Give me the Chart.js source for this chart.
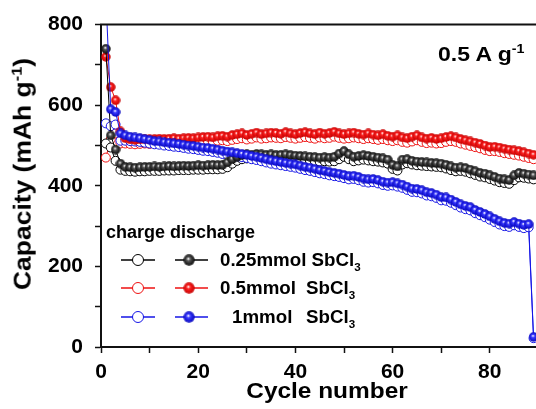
<!DOCTYPE html>
<html>
<head>
<meta charset="utf-8">
<script src="https://cdn.jsdelivr.net/npm/chart.js@4.4.0/dist/chart.umd.min.js"></script>
<style>
  html, body { margin: 0; padding: 0; background: #fff; overflow: hidden; width: 536px; height: 409px; }
  #wrap { position: relative; width: 536px; height: 409px; overflow: hidden; }
  #chart { position: absolute; left: 0; top: 0; }
  .t { position: absolute; font-family: "Liberation Sans", Arial, sans-serif; font-weight: bold; color: #000; white-space: nowrap; line-height: 1; transform-origin: left center; }
  .t sup, .t sub { font-size: 62%; }
</style>
</head>
<body>
<div id="wrap">
  <canvas id="chart" width="620" height="409"></canvas>
  <div class="t" id="ytitle" style="left:22px;top:174px;font-size:23px;transform-origin:center;transform:translate(-50%,-50%) rotate(-90deg) scaleX(1.15);">Capacity (mAh g<sup>-1</sup>)</div>
  <div class="t" style="left:327px;top:391px;font-size:22px;transform-origin:center;transform:translate(-50%,-50%) scaleX(1.11);">Cycle number</div>
  <div class="t" style="left:438px;top:43px;font-size:20px;transform:scaleX(1.15);">0.5 A g<sup>-1</sup></div>
  <div class="t" style="left:106px;top:223px;font-size:18px;">charge discharge</div>
  <div class="t" style="left:220px;top:251px;font-size:18px;transform:scaleX(1.04);">0.25mmol SbCl<sub>3</sub></div>
  <div class="t" style="left:220px;top:279px;font-size:18px;transform:scaleX(1.04);">0.5mmol</div>
  <div class="t" style="left:306px;top:279px;font-size:18px;transform:scaleX(1.04);">SbCl<sub>3</sub></div>
  <div class="t" style="left:232px;top:308px;font-size:18px;transform:scaleX(1.04);">1mmol</div>
  <div class="t" style="left:306px;top:308px;font-size:18px;transform:scaleX(1.04);">SbCl<sub>3</sub></div>
</div>
<script>
// valores, ciclos 1..89
const blackDis = [740, 525, 490, 455, 447,
  446, 445, 446, 447, 447, 448, 447, 448, 449, 448, 449, 450, 449, 450, 451, 450, 451, 452, 451, 452,
  458, 466, 472, 476, 478, 477, 479, 478, 477, 478, 476, 477, 478, 476, 475, 474, 473, 472, 471, 470,
  471, 470, 472, 480, 486, 478, 472, 474, 476, 474, 472, 470, 468, 465, 452, 448, 465, 466, 462, 460,
  459, 458, 457, 456, 455, 452, 448, 445, 446, 444, 440, 436, 432, 430, 426, 422, 418, 416, 414, 426, 432, 430, 428, 426];
const blackChg = [505, 495, 462, 440, 437,
  436, 435, 436, 436, 437, 437, 437, 438, 438, 438, 439, 439, 439, 440, 440, 440, 441, 441, 441, 442,
  446, 455, 462, 466, 468, 468, 469, 469, 468, 468, 467, 467, 468, 466, 465, 464, 463, 462, 461, 460,
  461, 460, 461, 466, 472, 466, 461, 463, 465, 463, 461, 460, 458, 455, 442, 438, 453, 456, 453, 451,
  450, 449, 448, 447, 446, 443, 439, 436, 437, 435, 431, 427, 423, 421, 417, 413, 409, 407, 405, 414, 421, 420, 418, 416];
const redDis = [720, 645, 612, 535, 518,
  515, 514, 515, 516, 515, 516, 517, 516, 517, 518, 517, 518, 519, 518, 520,
  521, 522, 520, 523, 524, 522, 526, 528, 530, 526, 529, 532, 528, 530, 532,
  531, 529, 533, 530, 528, 531, 533, 530, 528, 532, 529, 531, 534, 530, 528, 530, 532, 529, 527, 530,
  527, 525, 528, 524, 522, 525, 520, 518, 522, 525, 520, 517, 519, 516, 518, 521, 523, 520, 516, 513,
  510, 507, 504, 500, 496, 497, 495, 492, 490, 488, 486, 483, 480, 477];
const redChg = [470, 515, 530, 505, 505,
  504, 503, 504, 505, 504, 505, 506, 505, 506, 507, 506, 507, 508, 507, 509,
  510, 511, 509, 512, 513, 511, 514, 516, 518, 515, 517, 520, 517, 518, 520,
  519, 518, 521, 519, 517, 519, 521, 519, 517, 520, 518, 519, 522, 519, 517, 518, 520, 518, 516, 518,
  516, 514, 516, 513, 511, 513, 509, 507, 510, 513, 509, 506, 507, 505, 506, 509, 511, 509, 505, 502,
  499, 496, 493, 489, 486, 486, 484, 481, 479, 477, 475, 472, 469, 466];
const blueDis = [870, 590, 583, 530, 525, 522, 520, 518, 516, 514,
  511, 510, 508, 507, 505, 504, 502, 500, 499, 497, 495, 494, 492, 490, 487, 485, 483, 481, 479, 477,
  474, 472, 469, 466, 463, 461, 459, 457, 455, 453, 450, 447, 445, 442, 439, 437, 434, 432, 430, 427,
  424, 425, 422, 418, 416, 417, 414, 410, 408, 409, 406, 403, 398, 393, 392, 389, 384, 382, 378, 372,
  371, 366, 360, 354, 350, 347, 340, 335, 330, 324, 318, 312, 308, 306, 310, 306, 303, 305, 25];
const blueChg = [555, 548, 552, 512, 512, 511, 510, 509, 507, 505,
  503, 502, 500, 499, 497, 496, 494, 492, 491, 489, 487, 486, 484, 482, 479, 477, 475, 473, 471, 469,
  466, 464, 461, 458, 455, 453, 451, 449, 447, 445, 442, 439, 437, 434, 431, 429, 426, 424, 422, 419,
  416, 417, 414, 410, 408, 409, 406, 402, 400, 401, 398, 395, 390, 385, 384, 381, 376, 374, 370, 364,
  363, 358, 352, 346, 342, 339, 332, 327, 322, 316, 310, 304, 300, 298, 302, 298, 295, 297, 22];

const xTicks = [0, 20, 40, 60, 80, 100];
const yTicks = [0, 200, 400, 600, 800];

const toXY = arr => arr.map((v, i) => ({ x: i + 1, y: v }));

// bolita con brillo para los puntos llenos
function ball(color, dark) {
  const c = document.createElement("canvas");
  c.width = 10; c.height = 10;
  const g = c.getContext("2d");
  const grd = g.createRadialGradient(4.3, 3.8, 0.2, 5, 5, 5);
  grd.addColorStop(0, "#ffffff");
  grd.addColorStop(0.3, color);
  grd.addColorStop(1, dark);
  g.fillStyle = grd;
  g.beginPath(); g.arc(5, 5, 4.7, 0, Math.PI * 2); g.fill();
  return c;
}
const balls = {
  black: ball("#555555", "#000000"),
  red: ball("#ff2020", "#c00000"),
  blue: ball("#3a3aff", "#0000b8")
};
const cols = { black: "#000000", red: "#ee1111", blue: "#1515e6" };

const openSet = (data, key, order) => ({
  data: toXY(data), order,
  borderColor: cols[key], borderWidth: 1,
  pointStyle: "circle", pointRadius: 4.5,
  pointBackgroundColor: "#ffffff", pointBorderColor: cols[key], pointBorderWidth: 1
});
const fullSet = (data, key, order) => ({
  data: toXY(data), order,
  borderColor: cols[key], borderWidth: 1,
  pointStyle: balls[key], pointRadius: 5
});

// marco superior y simbolos de leyenda
const frame = {
  id: "frame",
  afterDraw(chart) {
    const { ctx, chartArea: a } = chart;
    ctx.save();
    ctx.strokeStyle = "#111"; ctx.lineWidth = 2;
    ctx.beginPath(); ctx.moveTo(a.left - 1, a.top); ctx.lineTo(a.right, a.top); ctx.stroke();
    const rows = [["black", 260], ["red", 288], ["blue", 317]];
    rows.forEach(([k, y]) => {
      ctx.strokeStyle = cols[k]; ctx.lineWidth = 1.5;
      ctx.beginPath(); ctx.moveTo(121, y); ctx.lineTo(155, y); ctx.stroke();
      ctx.beginPath(); ctx.moveTo(175, y); ctx.lineTo(208, y); ctx.stroke();
      ctx.fillStyle = "#fff"; ctx.lineWidth = 1;
      ctx.beginPath(); ctx.arc(138, y, 5.5, 0, Math.PI * 2); ctx.fill(); ctx.stroke();
      ctx.drawImage(balls[k], 189 - 6, y - 6, 12, 12);
    });
    ctx.restore();
  }
};

const tickFont = { family: "Liberation Sans", size: 21, weight: "bold" };

new Chart(document.getElementById("chart"), {
  type: "line",
  data: {
    datasets: [
      fullSet(blueDis, "blue", 1),
      fullSet(blackDis, "black", 2),
      fullSet(redDis, "red", 3),
      openSet(blueChg, "blue", 4),
      openSet(blackChg, "black", 5),
      openSet(redChg, "red", 6)
    ]
  },
  options: {
    responsive: false,
    animation: false,
    devicePixelRatio: 1,
    layout: { padding: { top: 22, right: 33, left: 0, bottom: 0 } },
    plugins: { legend: { display: false }, tooltip: { enabled: false } },
    elements: { line: { tension: 0 } },
    scales: {
      x: {
        type: "linear", min: 0, max: 100,
        afterFit: s => { s.height = 62; },
        grid: { drawOnChartArea: false, drawTicks: true, tickLength: 6, tickColor: "#111", tickWidth: 1.5 },
        border: { display: true, color: "#111", width: 2 },
        ticks: {
          stepSize: 10, padding: 7, color: "#000", font: tickFont, maxRotation: 0, autoSkip: false,
          callback: v => xTicks.includes(v) ? String(v) : ""
        }
      },
      y: {
        min: 0, max: 800,
        afterFit: s => { s.width = 101; },
        grid: { drawOnChartArea: false, drawTicks: true, tickLength: 6, tickColor: "#111", tickWidth: 1.5 },
        border: { display: true, color: "#111", width: 2 },
        ticks: {
          stepSize: 100, padding: 12, color: "#000", font: tickFont,
          callback: v => yTicks.includes(v) ? String(v) : ""
        }
      }
    }
  },
  plugins: [frame]
});
</script>
</body>
</html>
